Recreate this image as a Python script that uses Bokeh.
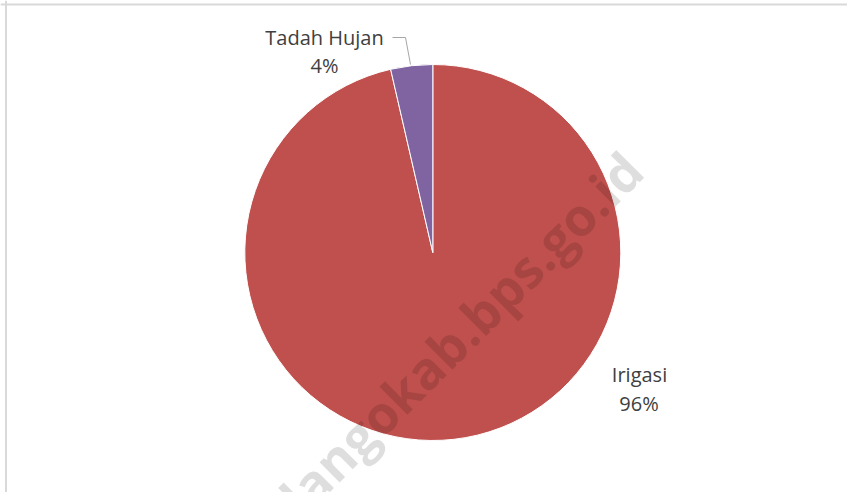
import math
from bokeh.plotting import figure
from bokeh.models import ColumnDataSource, Range1d, Span
from bokeh.core.properties import value
from bokeh.embed import file_html
from bokeh.resources import INLINE

# ---- data ----
categories = ["Irigasi", "Tadah Hujan"]
shares = [96.4, 3.6]
colors = ["#C0504D", "#8064A2"]
watermark_text = "bonebolangokab.bps.go.id"

W, H = 847, 492

def X(xr):
    return xr

def Y(yr):
    return H - yr

p = figure(width=W, height=H, output_backend="svg", toolbar_location=None,
           x_range=Range1d(0, W), y_range=Range1d(0, H), min_border=0)
p.axis.visible = False
p.grid.visible = False
p.outline_line_color = None
p.background_fill_color = "white"
p.border_fill_color = "white"

# pie geometry (layout)
cx, cy, r = X(432.3), Y(252), 188

total = sum(shares)
starts, ends = [], []
acc = 0.0
for v in shares:
    starts.append(math.pi / 2 - 2 * math.pi * acc / total)
    acc += v
    ends.append(math.pi / 2 - 2 * math.pi * acc / total)

src = ColumnDataSource(dict(cat=categories, val=shares, start=starts, end=ends, color=colors))
p.wedge(x=cx, y=cy, radius=r, start_angle="start", end_angle="end", direction="clock",
        fill_color="color", line_color="white", line_width=1, source=src)

# watermark
p.text(x=[X(632)], y=[Y(160)], text=[watermark_text], angle=math.pi / 4,
       text_align="right", text_baseline="alphabetic",
       text_font=value("Open Sans"), text_font_style="bold", text_font_size="52px",
       text_color="black", text_alpha=0.13)

# data labels
pct = [f"{round(v / total * 100)}%" for v in shares]
name_pos = [(639, 374), (324, 37)]
pct_pos = [(638.5, 403), (324, 65)]
lab = ColumnDataSource(dict(
    nx=[X(a) for a, b in name_pos], ny=[Y(b) for a, b in name_pos], name=categories,
    px=[X(a) for a, b in pct_pos], py=[Y(b) for a, b in pct_pos], pct=pct))
for xs, ys, t in [("nx", "ny", "name"), ("px", "py", "pct")]:
    p.text(x=xs, y=ys, text=t, source=lab, text_align="center", text_baseline="alphabetic",
           text_font=value("Open Sans"), text_font_size="20px", text_color="#404040")

# leader line for small slice
p.line(x=[X(392), X(405), X(410)], y=[Y(37), Y(37), Y(64)], line_color="#A6A6A6", line_width=1)

# chart area border (top and left visible)
p.add_layout(Span(location=Y(4), dimension="width", line_color="#D9D9D9", line_width=2))
p.add_layout(Span(location=X(5.5), dimension="height", line_color="#D9D9D9", line_width=2))

open("out.html", "w").write(file_html(p, INLINE))
